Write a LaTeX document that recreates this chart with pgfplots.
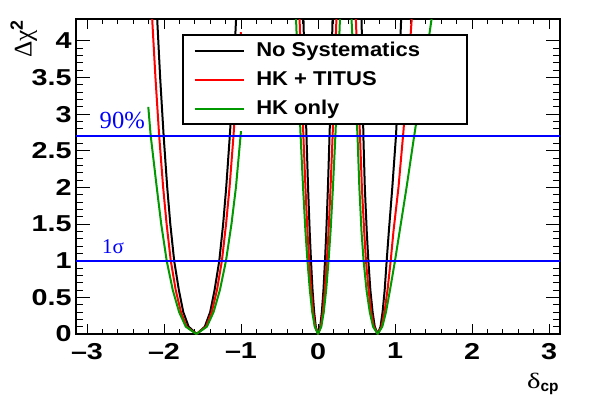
\documentclass[border=0pt]{standalone}
\usepackage{fontspec}
\setmainfont{Liberation Sans}
\newfontfamily\tickfont[FakeStretch=1.25]{Liberation Sans}
\newfontfamily\legfont[FakeStretch=1.1]{Liberation Sans}
\newfontfamily\serfont{Liberation Serif}
\newfontfamily\dfont[FakeStretch=1.3]{Liberation Serif}
\usepackage{xcolor}
\usepackage{pgfplots}
\pgfplotsset{compat=1.18}
\definecolor{cGreen}{RGB}{0,153,0}
\definecolor{cRed}{RGB}{255,0,0}
\definecolor{cBlue}{RGB}{0,0,255}

\begin{document}
\begin{tikzpicture}
\begin{axis}[
  at={(0,0)}, anchor=south west,
  scale only axis, width=241.9pt, height=157.5pt,
  xmin=-3.14159, xmax=3.14159, ymin=0, ymax=4.3,
  xtick={-3,-2,-1,0,1,2,3}, xticklabels={–3,–2,–1,0,1,2,3},
  ytick={0,0.5,1,1.5,2,2.5,3,3.5,4}, yticklabels={0,0.5,1,1.5,2,2.5,3,3.5,4},
  minor x tick num=4, minor y tick num=4,
  tick align=inside,
  axis line style={line width=1pt},
  every tick/.style={black, line width=0.5pt},
  major tick length=7pt, minor tick length=3.5pt,
  every major x tick/.append style={/pgfplots/major tick length=5pt},
  every minor x tick/.append style={/pgfplots/minor tick length=2.5pt},
  tick label style={font={\tickfont\fontsize{11.5}{13}\selectfont\bfseries}, inner sep=0pt},
  xticklabel style={yshift=-4.35pt},
  yticklabel style={xshift=-2pt},
  xlabel={{\dfont δ}\textsubscript{\bfseries cp}},
  ylabel={{\serfont Δχ}\textsuperscript{\bfseries 2}},
  every axis x label/.style={at={([yshift=-27pt]rel axis cs:1,0)}, anchor=base east, inner sep=0pt,
    font={\fontsize{11}{13}\selectfont}},
  every axis y label/.style={at={([xshift=-19.3pt]rel axis cs:0,1)}, rotate=90, anchor=south east, inner sep=0pt,
    font={\fontsize{12.7}{15}\selectfont}},
  legend style={at={(axis cs:-1.762,4.089)}, anchor=north west, draw=black, line width=1pt, fill=white,
    inner xsep=5.2pt, inner ysep=3pt, row sep=5pt, column sep=5.8pt,
    font={\legfont\fontsize{10}{12}\selectfont\bfseries},
    nodes={inner sep=0pt, text height=7.5pt, text depth=2pt}},
  legend cell align=left,
  legend image code/.code={\draw[#1, line width=1pt] (0pt,0pt) -- (24.5pt,0pt);},
]
% No Systematics
\addplot[black, line width=1pt, line join=round, forget plot] coordinates {
(-2.2,6.3)(-2.098,4.5)(-2.05,3.5)(-2.005,2.71)(-1.958,2.0)(-1.918,1.5)(-1.868,1.0)(-1.807,0.6)(-1.75,0.3)(-1.68,0.1)(-1.575,0)
(-1.47,0.1)(-1.40,0.3)(-1.343,0.6)(-1.282,1.0)(-1.232,1.5)(-1.192,2.0)(-1.145,2.71)(-1.10,3.5)(-1.055,4.5)(-1.0,5.8)};
\addplot[black, line width=1pt, line join=round] coordinates {
(-0.35,8.5)(-0.208,5.2)(-0.189,4.3)(-0.171,3.5)(-0.150,2.71)(-0.129,2.0)(-0.108,1.4)(-0.091,1.0)(-0.071,0.6)(-0.05,0.3)(-0.029,0.1)(0,0)
(0.029,0.1)(0.05,0.3)(0.071,0.6)(0.091,1.0)(0.108,1.4)(0.129,2.0)(0.15,2.71)(0.171,3.5)(0.189,4.3)(0.208,5.2)(0.38,8.0)
(0.55,5.2)(0.566,4.3)(0.578,3.5)(0.589,2.71)(0.608,2.0)(0.633,1.4)(0.654,1.0)(0.68,0.6)(0.709,0.3)(0.737,0.1)(0.775,0)
(0.812,0.1)(0.839,0.3)(0.866,0.6)(0.892,1.0)(0.92,1.4)(0.965,2.0)(1.013,2.71)(1.05,3.5)(1.08,4.3)(1.11,5.2)(1.3,9)};
\addlegendentry{\makebox[100pt][l]{No Systematics}}
% HK + TITUS
\addplot[cRed, line width=1pt, line join=round, forget plot] coordinates {
(-2.2,5.0)(-2.164,4.5)(-2.111,3.5)(-2.063,2.71)(-2.011,2.0)(-1.966,1.5)(-1.912,1.0)(-1.848,0.6)(-1.78,0.3)(-1.706,0.1)(-1.58,0)
(-1.454,0.1)(-1.38,0.3)(-1.312,0.6)(-1.248,1.0)(-1.194,1.5)(-1.149,2.0)(-1.097,2.71)(-1.049,3.5)(-1.0,4.12)};
\addplot[cRed, line width=1pt, line join=round] coordinates {
(-0.4,8)(-0.263,5.2)(-0.239,4.3)(-0.216,3.5)(-0.19,2.71)(-0.163,2.0)(-0.137,1.4)(-0.115,1.0)(-0.089,0.6)(-0.063,0.3)(-0.0365,0.1)(0,0)
(0.0365,0.1)(0.063,0.3)(0.089,0.6)(0.115,1.0)(0.137,1.4)(0.163,2.0)(0.19,2.71)(0.216,3.5)(0.239,4.3)(0.263,5.2)(0.36,6.8)
(0.465,5.2)(0.492,4.3)(0.518,3.5)(0.545,2.71)(0.57,2.0)(0.6,1.4)(0.623,1.0)(0.657,0.6)(0.69,0.3)(0.725,0.1)(0.775,0)
(0.825,0.1)(0.863,0.3)(0.903,0.6)(0.944,1.0)(0.98,1.4)(1.045,2.0)(1.105,2.71)(1.165,3.5)(1.217,4.3)(1.275,5.2)(1.45,7)};
\addlegendentry{\makebox[100pt][l]{HK + TITUS}}
% HK only
\addplot[cGreen, line width=1pt, line join=round, forget plot] coordinates {
(-2.204,3.1)(-2.173,2.71)(-2.094,2.0)(-2.036,1.5)(-1.965,1.0)(-1.886,0.6)(-1.804,0.3)(-1.717,0.1)(-1.58,0)
(-1.443,0.1)(-1.356,0.3)(-1.274,0.6)(-1.195,1.0)(-1.124,1.5)(-1.066,2.0)(-1.0,2.77)};
\addplot[cGreen, line width=1pt, line join=round] coordinates {
(-0.45,7.5)(-0.313,5.2)(-0.285,4.3)(-0.257,3.5)(-0.226,2.71)(-0.194,2.0)(-0.163,1.4)(-0.137,1.0)(-0.106,0.6)(-0.075,0.3)(-0.043,0.1)(0,0)
(0.043,0.1)(0.075,0.3)(0.106,0.6)(0.137,1.0)(0.163,1.4)(0.194,2.0)(0.226,2.71)(0.257,3.5)(0.285,4.3)(0.313,5.2)(0.354,6.0)
(0.395,5.2)(0.435,4.3)(0.475,3.5)(0.513,2.71)(0.537,2.0)(0.565,1.4)(0.592,1.0)(0.63,0.6)(0.672,0.3)(0.715,0.1)(0.775,0)
(0.835,0.1)(0.883,0.3)(0.935,0.6)(1.0,1.0)(1.06,1.4)(1.15,2.0)(1.25,2.71)(1.365,3.5)(1.475,4.3)(1.595,5.2)(1.8,6.5)};
\addlegendentry{\makebox[100pt][l]{HK only}}
% confidence levels
\addplot[draw=cBlue, line width=0.9pt, forget plot] coordinates {(-3.2,1.0)(3.2,1.0)};
\addplot[draw=cBlue, line width=1pt, forget plot] coordinates {(-3.2,2.706)(0,2.706)(3.2,2.706)};
\node[anchor=base west, inner sep=0pt, text=cBlue, font={\serfont\fontsize{12.3}{14}\selectfont}] at (axis cs:-2.84,2.806) {90\%};
\node[anchor=base west, inner sep=0pt, text=cBlue, font={\serfont\fontsize{10.5}{12}\selectfont}] at (axis cs:-2.81,1.10) {1σ};
\end{axis}
\pgfresetboundingbox
\path[use as bounding box] (-38.05pt,-32pt) rectangle (256.45pt,167pt);
\end{tikzpicture}
\end{document}
